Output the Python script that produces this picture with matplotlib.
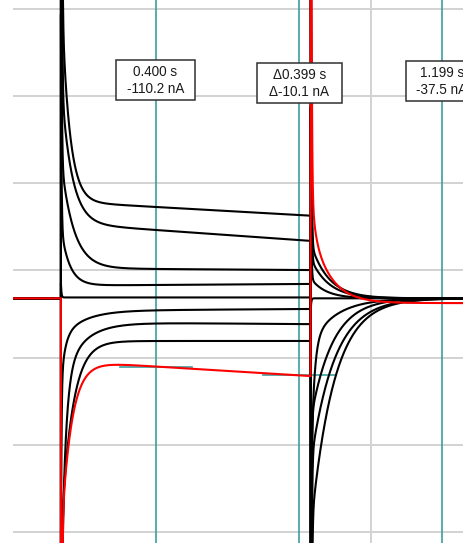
import numpy as np
import matplotlib
matplotlib.use("Agg")
import matplotlib.pyplot as plt
from matplotlib.patches import Rectangle

# ---- recording / protocol -------------------------------------------------
t_stop = 1.2607          # s, right edge of the display
step_on = 0.134          # s, start of voltage step
step_off = 0.832         # s, end of voltage step
holding = -32.0          # nA, holding current before the step

# steady current of each sweep at 0.400 s and at 0.799 s (nA)
level_early = [72.7, 46.3, 1.6, -16.7, -31.0, -45.4, -60.3, -80.9, -110.2]
level_late = [63.5, 34.8, 0.5, -15.6, -31.0, -44.3, -61.5, -80.9, -120.3]
# relaxation at step onset: amplitude (nA) and time constant (ms)
on_amp = [249, 164, 125, 66, 0, -32, -69, -222, -206]
on_tau = [22, 29, 35, 24, 10, 61, 56, 31, 28]
on_fast_amp = [0, 0, 0, 0, 0, -52, -276, 0, 0]
# tail currents after the step: amplitude (nA), time constant (ms)
tail_amp = [-266, -189, -139, -52, 0, 23, 46, 63, 92]
tail_tau = [64, 67, 61, 70, 10, 42, 50, 50, 50]
tail_fast_amp = [0, 0, 0, -166, 0, 0, 0, 0, 57]
post_level = [-32.0, -32.0, -32.0, -32.0, -32.0, -32.0, -32.0, -32.0, -37.5]
sweep_colors = ["black"] * 8 + ["red"]

# cursors (time in s, current in nA)
cursor_t = [0.400, 0.799, 1.199]
cursor_i = [-110.2, -120.3, -37.5]

# grid
y_grid = [-300, -200, -100, 0, 100, 200, 300]
x_grid = [1.0]

FAST_TAU = 8.4      # ms
SPIKE_TAU = 1.5     # ms
SPIKE_GAIN = 16.0   # capacitive spike per nA of step


def sweep(k, t):
    y = np.full_like(t, holding)
    d_on = level_early[k] - holding
    d_off = level_late[k] - holding
    m = (t >= step_on) & (t < step_off)
    s = (t[m] - step_on) * 1000.0
    slope = (level_late[k] - level_early[k]) / (cursor_t[1] - cursor_t[0])
    lvl = level_early[k] + slope * (t[m] - cursor_t[0])
    y[m] = (lvl + on_amp[k] * np.exp(-s / on_tau[k])
            + on_fast_amp[k] * np.exp(-s / 11.0)
            + SPIKE_GAIN * d_on * np.exp(-s / SPIKE_TAU))
    p = t >= step_off
    s = (t[p] - step_off) * 1000.0
    y[p] = (post_level[k] + tail_amp[k] * np.exp(-s / tail_tau[k])
            + tail_fast_amp[k] * np.exp(-s / FAST_TAU)
            - SPIKE_GAIN * d_off * np.exp(-s / SPIKE_TAU))
    return y


W, H = 464, 543
fig = plt.figure(figsize=(W / 100, H / 100), dpi=100)
fig.patch.set_facecolor("white")
ax = fig.add_axes([13 / W, 0, (W - 13) / W, 1])
ax.set_xlim(0, t_stop)
ax.set_ylim(-312.5, 310.0)
for s in ax.spines.values():
    s.set_visible(False)
ax.set_xticks(x_grid)
ax.set_yticks(y_grid)
ax.tick_params(length=0, labelleft=False, labelbottom=False)
ax.grid(True, color="#d2d2d2", lw=1.4, zorder=0)
ax.set_axisbelow(True)

t = np.arange(0.0, t_stop, 0.0001)
for k in range(len(level_early)):
    ax.plot(t, sweep(k, t), color=sweep_colors[k], lw=1.5, zorder=3,
            solid_joinstyle="miter")

teal = "#3d9e9e"
for ct, ci in zip(cursor_t, cursor_i):
    ax.axvline(ct, color=teal, lw=1.2, zorder=2)
    ax.plot([ct - 0.1, ct + 0.1], [ci, ci], color=teal, lw=1.2, zorder=2)

# readout boxes (figure pixel layout)
dt01 = cursor_t[1] - cursor_t[0]
di01 = cursor_i[1] - cursor_i[0]
labels = [
    (f"{cursor_t[0]:.3f} s", f"{cursor_i[0]:.1f} nA"),
    (f"\u0394{dt01:.3f} s", f"\u0394{di01:.1f} nA"),
    (f"{cursor_t[2]:.3f} s", f"{cursor_i[2]:.1f} nA"),
]
boxes = [(116, 60, 79, 40), (257, 63, 85, 40), (406, 61, 72, 40)]


def fx(x):
    return x / W


def fy(y):
    return 1 - y / H


for (l1, l2), (bx, by, bw, bh) in zip(labels, boxes):
    fig.patches.append(Rectangle((fx(bx), fy(by + bh)), bw / W, bh / H,
                                 transform=fig.transFigure, facecolor="white",
                                 edgecolor="#303030", lw=1.1, zorder=5))
    cx = bx + bw / 2
    fig.text(fx(cx), fy(by + 12), l1, ha="center", va="center",
             fontsize=9.75, family="Liberation Sans", color="#1a1a1a", zorder=6)
    fig.text(fx(cx), fy(by + 29), l2, ha="center", va="center",
             fontsize=9.75, family="Liberation Sans", color="#1a1a1a", zorder=6)

fig.savefig("out.png", dpi=100, facecolor="white")
